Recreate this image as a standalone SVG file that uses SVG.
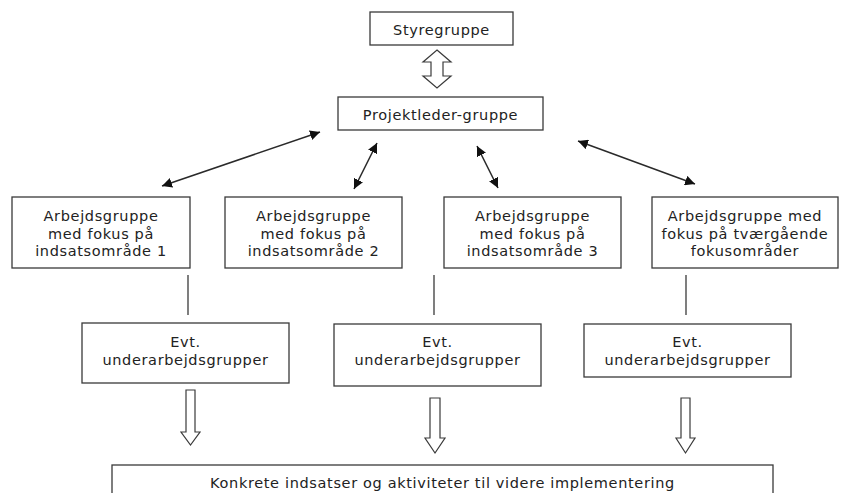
<svg xmlns="http://www.w3.org/2000/svg" width="843" height="493" viewBox="0 0 843 493">
  <style>
    .box { fill: #fff; stroke: #3a3a3a; stroke-width: 1.3; }
    .lbl { font-family: "DejaVu Sans", Verdana, sans-serif; font-size: 14.5px; letter-spacing: 0.65px; fill: #222; text-anchor: middle; }
    .link { stroke: #2a2a2a; stroke-width: 1.5; fill: none; }
    .tie { stroke: #3a3a3a; stroke-width: 1.3; fill: none; }
    .hollow { fill: #fff; stroke: #3a3a3a; stroke-width: 1.2; stroke-linejoin: miter; }
  </style>
  <defs>
    <marker id="tip" viewBox="0 0 10 10" refX="10" refY="5" markerWidth="10" markerHeight="10" markerUnits="userSpaceOnUse" orient="auto-start-reverse">
      <path d="M0,0 L10,5 L0,10 Z" fill="#111"/>
    </marker>
  </defs>
  <rect width="843" height="493" fill="#fff"/>

  <g id="connectors">
    <!-- steering group <-> project leaders -->
    <polygon class="hollow" points="437,50 451,62 443,62 443,76 451,76 437,88 423,76 431,76 431,62 423,62"/>
    <!-- project leaders <-> work groups -->
    <line class="link" x1="320" y1="132" x2="162" y2="186" marker-start="url(#tip)" marker-end="url(#tip)"/>
    <line class="link" x1="377" y1="143" x2="354" y2="189" marker-start="url(#tip)" marker-end="url(#tip)"/>
    <line class="link" x1="477" y1="146" x2="498" y2="188" marker-start="url(#tip)" marker-end="url(#tip)"/>
    <line class="link" x1="578" y1="141" x2="695" y2="184" marker-start="url(#tip)" marker-end="url(#tip)"/>
    <!-- work groups to sub-groups -->
    <line class="tie" x1="188" y1="275" x2="188" y2="315"/>
    <line class="tie" x1="434" y1="275" x2="434" y2="315"/>
    <line class="tie" x1="686" y1="275" x2="686" y2="315"/>
    <!-- sub-groups to outcomes -->
    <polygon class="hollow" points="186,390 195,390 195,432 200,432 190.5,445 181,432 186,432"/>
    <polygon class="hollow" points="430,398 440,398 440,438 445,438 435,453 425,438 430,438"/>
    <polygon class="hollow" points="681,398 690,398 690,438 695,438 685.5,453 676,438 681,438"/>
  </g>

  <g id="styregruppe">
    <rect class="box" x="370" y="12" width="143" height="33"/>
    <text class="lbl" x="441.5" y="35">Styregruppe</text>
  </g>

  <g id="projektleder">
    <rect class="box" x="338" y="97" width="205" height="33"/>
    <text class="lbl" x="440.5" y="120">Projektleder-gruppe</text>
  </g>

  <g id="arbejdsgruppe-1">
    <rect class="box" x="12" y="197" width="178" height="71"/>
    <text class="lbl" x="101" y="221">Arbejdsgruppe</text>
    <text class="lbl" x="101" y="238.5">med fokus på</text>
    <text class="lbl" x="101" y="256">indsatsområde 1</text>
  </g>

  <g id="arbejdsgruppe-2">
    <rect class="box" x="225" y="197" width="177" height="71"/>
    <text class="lbl" x="313.5" y="221">Arbejdsgruppe</text>
    <text class="lbl" x="313.5" y="238.5">med fokus på</text>
    <text class="lbl" x="313.5" y="256">indsatsområde 2</text>
  </g>

  <g id="arbejdsgruppe-3">
    <rect class="box" x="444" y="197" width="177" height="71"/>
    <text class="lbl" x="532.5" y="221">Arbejdsgruppe</text>
    <text class="lbl" x="532.5" y="238.5">med fokus på</text>
    <text class="lbl" x="532.5" y="256">indsatsområde 3</text>
  </g>

  <g id="arbejdsgruppe-tvaergaaende">
    <rect class="box" x="652" y="197" width="186" height="71"/>
    <text class="lbl" x="745" y="221">Arbejdsgruppe med</text>
    <text class="lbl" x="745" y="238.5">fokus på tværgående</text>
    <text class="lbl" x="745" y="256">fokusområder</text>
  </g>

  <g id="underarbejdsgrupper-1">
    <rect class="box" x="82" y="323" width="207" height="60"/>
    <text class="lbl" x="185.5" y="347">Evt.</text>
    <text class="lbl" x="185.5" y="365">underarbejdsgrupper</text>
  </g>

  <g id="underarbejdsgrupper-2">
    <rect class="box" x="334" y="324" width="207" height="62"/>
    <text class="lbl" x="437.5" y="347">Evt.</text>
    <text class="lbl" x="437.5" y="365">underarbejdsgrupper</text>
  </g>

  <g id="underarbejdsgrupper-3">
    <rect class="box" x="584" y="324" width="207" height="53"/>
    <text class="lbl" x="687.5" y="347">Evt.</text>
    <text class="lbl" x="687.5" y="365">underarbejdsgrupper</text>
  </g>

  <g id="konkrete-indsatser">
    <rect class="box" x="112" y="465" width="661" height="40"/>
    <text class="lbl" x="442.5" y="488">Konkrete indsatser og aktiviteter til videre implementering</text>
  </g>
</svg>
